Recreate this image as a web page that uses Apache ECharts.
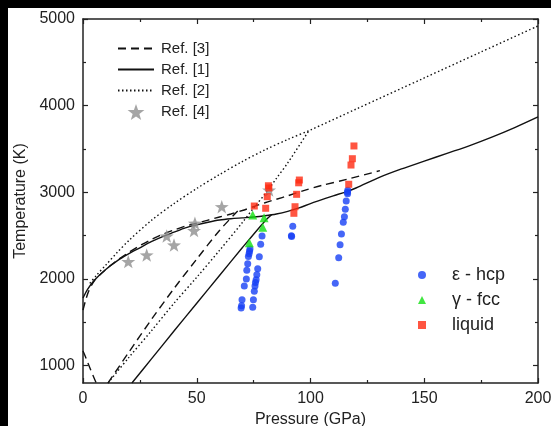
<!DOCTYPE html>
<html><head><meta charset="utf-8">
<script src="https://cdn.jsdelivr.net/npm/echarts@6/dist/echarts.min.js"></script>
<style>
html,body{margin:0;padding:0;background:#000;width:551px;height:426px;overflow:hidden}
#c{position:absolute;left:8px;top:8px;width:543px;height:418px;background:#fff}
</style></head><body><div id="c"></div>
<script>
// ---- data (Pressure GPa, Temperature K) ----
const xTicks = [0, 50, 100, 150, 200];
const yTicks = [1000, 2000, 3000, 4000, 5000];
const yMinorTicks = [1500, 2500, 3500, 4500];

const ref1Upper = [[0,1780],[2,1880],[5,1985],[10,2110],[15,2210],[20,2290],[25,2360],[30,2430],[35,2490],[40,2540],[45,2590],[50,2625],[55,2655],[60,2680],[65,2695],[70,2705],[75,2715],[80,2730],[85,2750],[90,2780],[95,2820],[100,2870],[105,2915],[110,2960],[115,3000],[120,3050],[130,3170],[140,3270],[150,3360],[160,3450],[170,3540],[180,3640],[190,3750],[200,3870]];
const ref1Lower = [[21.5,800],[30,1075],[40,1400],[50,1720],[60,2040],[70,2360],[80,2670],[83,2745]];

const ref3Upper = [[0,1640],[1,1740],[2.5,1860],[5,1980],[10,2110],[15,2215],[20,2305],[25,2385],[30,2455],[35,2515],[40,2565],[45,2610],[50,2645],[55,2680],[60,2715],[65,2750],[70,2790],[75,2835],[80,2880],[85,2920],[90,2960],[97,3020],[105,3080],[116,3150],[130.5,3250]];
const ref3LowerLeft = [[0,1170],[1.5,1075],[3,975],[4.5,880],[6,790]];
const ref3Lower = [[11,800],[20,1150],[30,1530],[40,1890],[50,2230],[60,2560],[68,2785]];

const ref2Upper = [[3,1950],[6,2045],[10,2160],[15,2305],[20,2440],[30,2675],[40,2870],[50,3045],[60,3205],[70,3355],[80,3490],[90,3610],[100,3720],[120,3960],[150,4320],[175,4620],[200,4920]];
const ref2Lower = [[11,800],[20,1090],[30,1400],[40,1720],[50,2020],[60,2330],[70,2650],[75,2820],[80,2980],[85,3160],[90,3340],[99.5,3720]];

const ref4Stars = [[19.9,2200],[28,2277],[36.8,2496],[40,2392],[48.8,2558],[49.2,2643],[61,2834],[81.8,3025]];

const hcpPoints = [[73.4,2346],[73.2,2320],[73.0,2290],[72.7,2260],[72.4,2175],[72.0,2100],[71.8,2000],[70.9,1920],[69.9,1760],[69.7,1690],[69.5,1665],
  [78.7,2496],[78.1,2400],[77.5,2257],[76.8,2119],[76.4,2050],[76.1,1990],[75.8,1960],[75.6,1920],[75.3,1860],[74.9,1760],[74.6,1673],
  [92.2,2610],[91.6,2500],[91.7,2490],
  [116.4,3025],[116.2,3000],[116.3,2985],[115.7,2900],[115.3,2804],[114.9,2719],[114.4,2654],[113.6,2519],[113.0,2396],[112.4,2246],[110.9,1950]];
const fccPoints = [[74.6,2738],[79.6,2708],[79.0,2596],[73.1,2419]];
const liquidPoints = [[75.3,2842],[81.5,3076],[81.7,3050],[81.0,2950],[80.3,2816],[95.1,3142],[94.8,3110],[93.9,2977],[93.2,2834],[92.7,2758],[119.1,3535],[118.4,3388],[117.8,3315],[116.8,3093]];

const FONT = 'Liberation Sans, Arial, sans-serif';
const INK = '#222';
const STAR = 'path://M0,-10L2.35,-3.24L9.51,-3.09L3.8,1.24L5.88,8.09L0,4L-5.88,8.09L-3.8,1.24L-9.51,-3.09L-2.35,-3.24Z';
const chart = echarts.init(document.getElementById('c'), null, {renderer:'canvas'});

function lineSeries(name, data, type){
  return {name, type:'line', data, symbol:'none', smooth:0.3, clip:true, xAxisIndex:0, yAxisIndex:0,
    lineStyle:{color:'#111', width:1.4, type}, itemStyle:{color:'#111'}, z:2, animation:false};
}
const baseAxisLine = {show:true, lineStyle:{color:INK, width:1.5}};
const fmt = v => String(v);

const option = {
  animation:false,
  backgroundColor:'#fff',
  grid:{left:75, top:11, width:455, height:364, containLabel:false, outerBoundsMode:'none'},
  xAxis:[
    {type:'value', min:0, max:200, interval:50, position:'bottom',
     axisLine:baseAxisLine, splitLine:{show:false},
     axisTick:{inside:true, length:5, lineStyle:{color:INK, width:1.2}},
     minorTick:{show:true, splitNumber:2, length:3, lineStyle:{color:INK, width:1.2}},
     axisLabel:{color:INK, fontFamily:FONT, fontSize:16, margin:8, formatter:fmt},
     name:'Pressure (GPa)', nameLocation:'middle', nameGap:24,
     nameTextStyle:{color:INK, fontFamily:FONT, fontSize:16}},
    {type:'value', min:0, max:200, interval:50, position:'top',
     axisLine:baseAxisLine, splitLine:{show:false},
     axisTick:{inside:true, length:5, lineStyle:{color:INK, width:1.2}},
     minorTick:{show:true, splitNumber:2, length:3, lineStyle:{color:INK, width:1.2}},
     axisLabel:{show:false}}
  ],
  yAxis:[
    {type:'value', min:800, max:5000, position:'left',
     axisLine:baseAxisLine, splitLine:{show:false},
     axisTick:{inside:true, length:5, customValues:yTicks, lineStyle:{color:INK, width:1.2}},
     axisLabel:{color:INK, fontFamily:FONT, fontSize:16, margin:8, customValues:yTicks, formatter:fmt},
     name:'Temperature (K)', nameLocation:'middle', nameGap:53,
     nameTextStyle:{color:INK, fontFamily:FONT, fontSize:16}},
    {type:'value', min:800, max:5000, position:'left',
     axisLine:{show:false}, splitLine:{show:false},
     axisTick:{inside:true, length:3, customValues:yMinorTicks, lineStyle:{color:INK, width:1.2}},
     axisLabel:{show:false}},
    {type:'value', min:800, max:5000, position:'right',
     axisLine:baseAxisLine, splitLine:{show:false},
     axisTick:{inside:true, length:5, customValues:yTicks, lineStyle:{color:INK, width:1.2}},
     axisLabel:{show:false}},
    {type:'value', min:800, max:5000, position:'right',
     axisLine:{show:false}, splitLine:{show:false},
     axisTick:{inside:true, length:3, customValues:yMinorTicks, lineStyle:{color:INK, width:1.2}},
     axisLabel:{show:false}}
  ],
  legend:[
    {orient:'vertical', left:104, top:28, itemWidth:36, itemHeight:16, itemGap:6,
     data:[{name:'Ref. [3]', itemStyle:{opacity:0}},{name:'Ref. [1]', itemStyle:{opacity:0}},
           {name:'Ref. [2]', itemStyle:{opacity:0}},{name:'Ref. [4]', icon:STAR}],
     selectedMode:false,
     textStyle:{color:INK, fontFamily:FONT, fontSize:15, padding:[0,0,0,2]}},
    {orient:'vertical', left:405, top:253, itemWidth:8, itemHeight:8, itemGap:7,
     data:[{name:'ε - hcp', icon:'circle'},{name:'γ - fcc', icon:'triangle'},{name:'liquid', icon:'rect'}],
     selectedMode:false,
     textStyle:{color:INK, fontFamily:FONT, fontSize:18, padding:[0,0,0,21]}}
  ],
  series:[
    lineSeries('Ref. [3]', ref3Upper, [8,5]),
    lineSeries('Ref. [3]', ref3LowerLeft, [8,5]),
    lineSeries('Ref. [3]', ref3Lower, [8,5]),
    lineSeries('Ref. [1]', ref1Upper, 'solid'),
    lineSeries('Ref. [1]', ref1Lower, 'solid'),
    lineSeries('Ref. [2]', ref2Upper, [1.5,2.5]),
    lineSeries('Ref. [2]', ref2Lower, [1.5,2.5]),
    {name:'Ref. [4]', type:'scatter', data:ref4Stars, symbol:STAR, symbolSize:14, symbolKeepAspect:true,
     itemStyle:{color:'#8f8f8f'}, z:3},
    {name:'ε - hcp', type:'scatter', data:hcpPoints, symbol:'circle', symbolSize:7,
     itemStyle:{color:'#1740f5'}, z:4},
    {name:'γ - fcc', type:'scatter', data:fccPoints, symbol:'triangle', symbolSize:9,
     itemStyle:{color:'#12e012'}, z:5},
    {name:'liquid', type:'scatter', data:liquidPoints, symbol:'rect', symbolSize:7,
     itemStyle:{color:'#ff2a12'}, z:5}
  ]
};
chart.setOption(option);
</script></body></html>
